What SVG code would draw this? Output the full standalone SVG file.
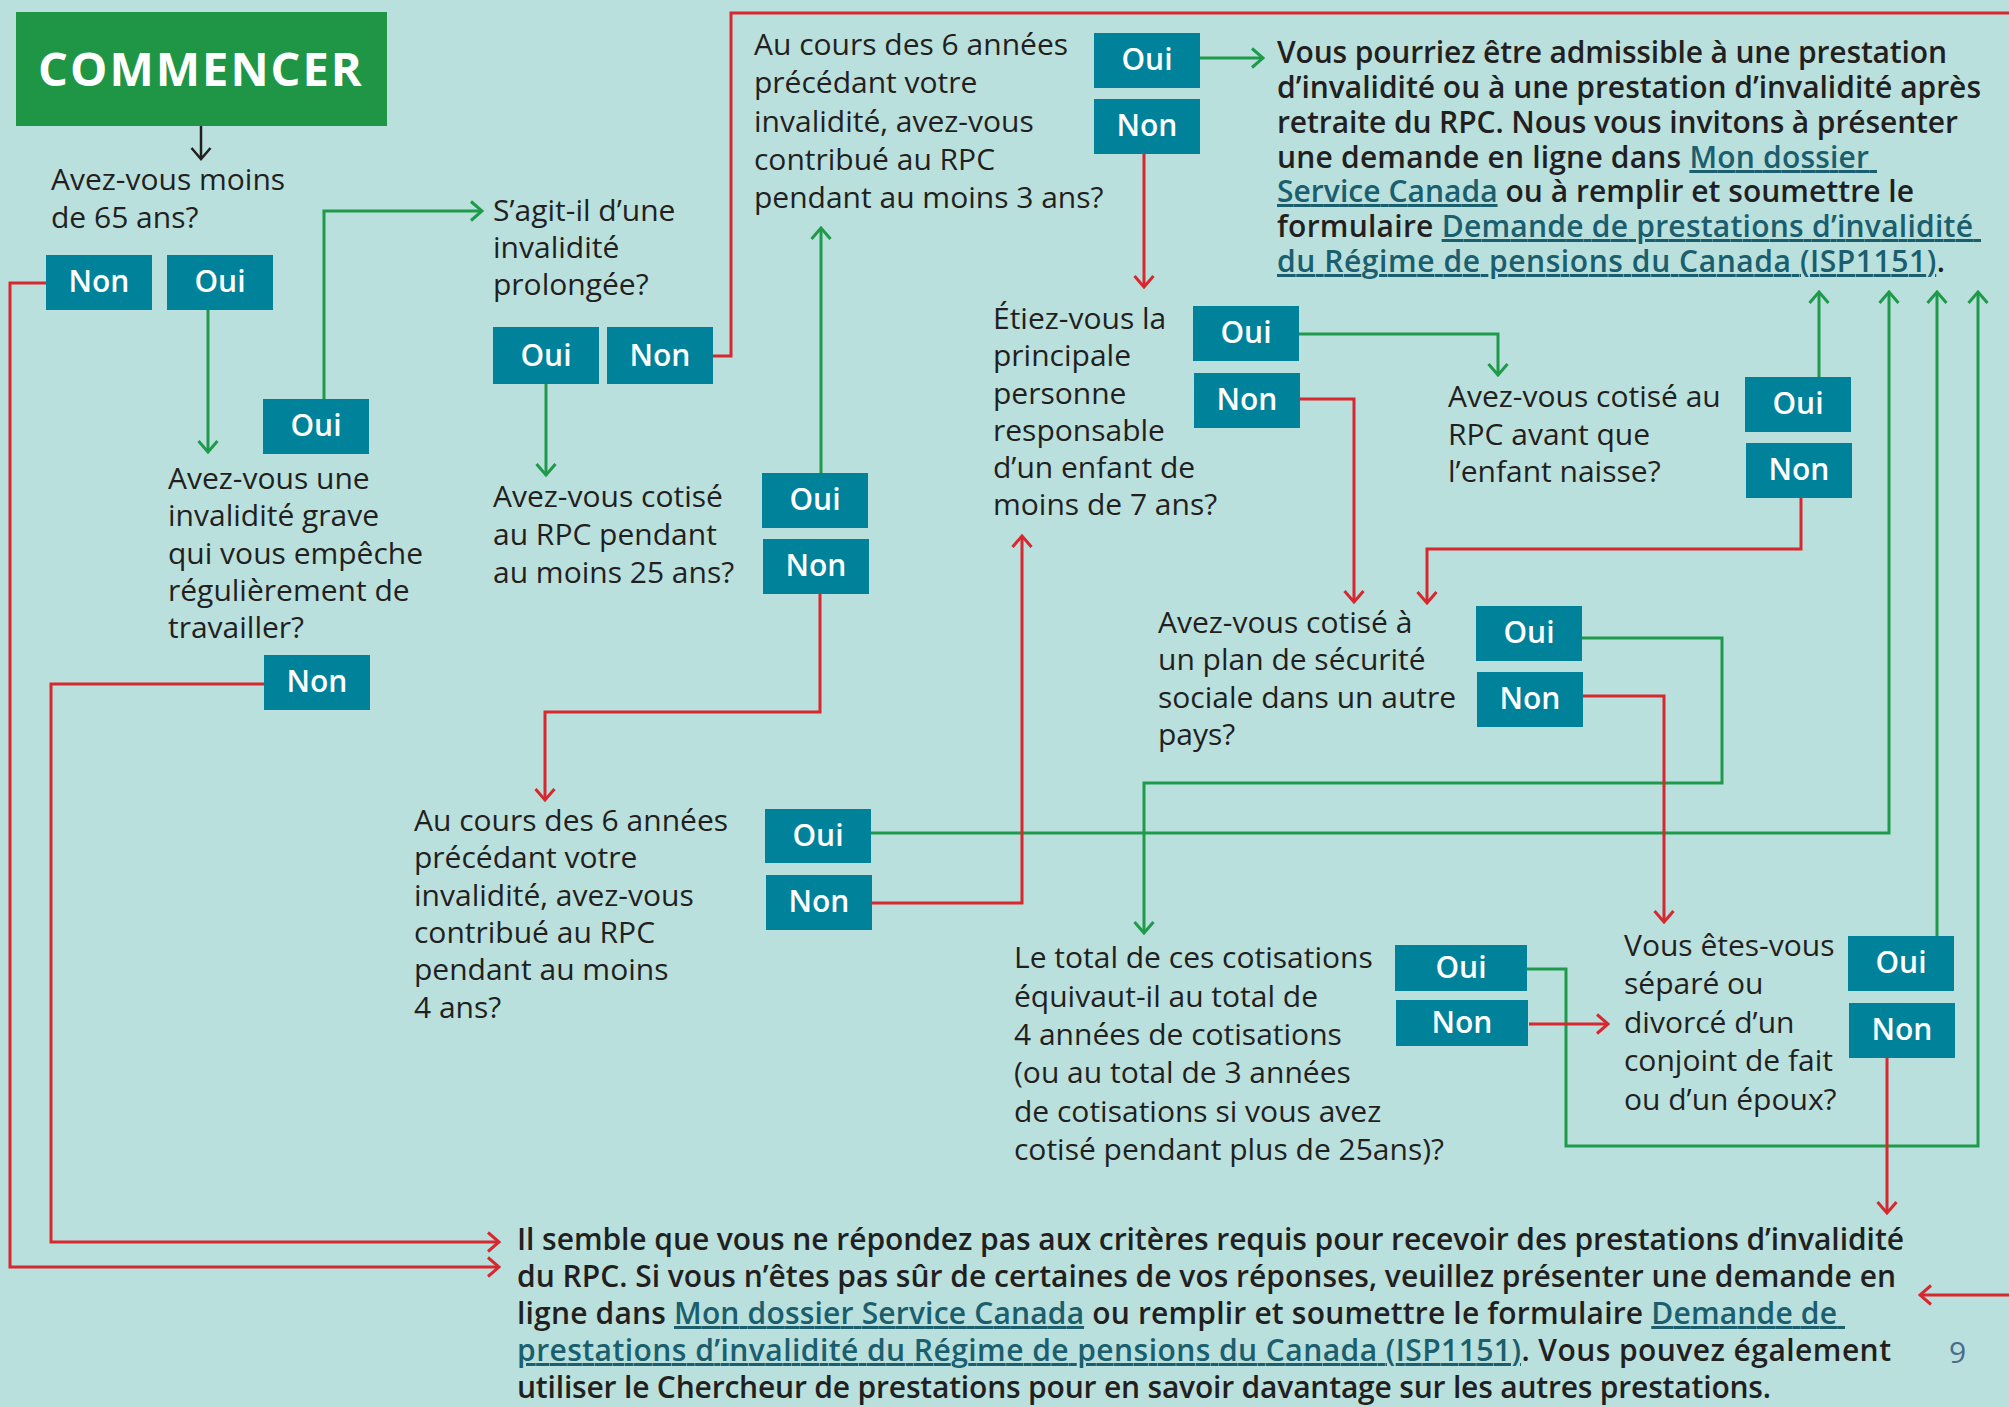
<svg xmlns="http://www.w3.org/2000/svg" width="2009" height="1407" viewBox="0 0 2009 1407">
<style>
.box{fill:#00829b}
.bl{font-family:"Open Sans","Noto Sans",sans-serif;font-size:30px;font-weight:600;fill:#ffffff;text-anchor:middle}
.q{font-family:"Open Sans","Noto Sans",sans-serif;font-size:30px;fill:#231f20}
.r{font-family:"Open Sans","Noto Sans",sans-serif;font-size:30px;font-weight:600;fill:#231f20}
.lk{fill:#1b5e6e;text-decoration:underline}
.g{fill:none;stroke:#1f9a4a;stroke-width:3;marker-end:url(#ag)}
.gn{fill:none;stroke:#1f9a4a;stroke-width:3}
.rd{fill:none;stroke:#d7282f;stroke-width:3;marker-end:url(#ar)}
.rn{fill:none;stroke:#d7282f;stroke-width:3}
</style>
<defs>
<marker id="ag" viewBox="-14 -12 16 24" refX="0" refY="0" markerWidth="16" markerHeight="24" markerUnits="userSpaceOnUse" orient="auto"><path d="M-11,-9.5 L0,0 L-11,9.5" fill="none" stroke="#1f9a4a" stroke-width="3"/></marker>
<marker id="ar" viewBox="-14 -12 16 24" refX="0" refY="0" markerWidth="16" markerHeight="24" markerUnits="userSpaceOnUse" orient="auto"><path d="M-11,-9.5 L0,0 L-11,9.5" fill="none" stroke="#d7282f" stroke-width="3"/></marker>
<marker id="ak" viewBox="-14 -12 16 24" refX="0" refY="0" markerWidth="16" markerHeight="24" markerUnits="userSpaceOnUse" orient="auto"><path d="M-11,-9.5 L0,0 L-11,9.5" fill="none" stroke="#231f20" stroke-width="2.5"/></marker>
</defs>
<rect x="0" y="0" width="2009" height="1407" fill="#b9e0dc"/>

<g id="connectors">
<path d="M201,126 V159" fill="none" stroke="#231f20" stroke-width="2.5" marker-end="url(#ak)"/>
<path class="g" d="M208,310 V452"/>
<path class="g" d="M324,399 V211 H482"/>
<path class="g" d="M546,384 V475"/>
<path class="g" d="M821,473 V228"/>
<path class="g" d="M1200,58 H1263"/>
<path class="g" d="M1299,334 H1498 V375"/>
<path class="g" d="M1819,377 V292"/>
<path class="g" d="M870,833 H1889 V292"/>
<path class="g" d="M1581,638 H1722 V783 H1144 V933"/>
<path class="g" d="M1527,969 H1566 V1146 H1978 V292"/>
<path class="g" d="M1937,936 V292"/>
<path class="rd" d="M46,283 H10 V1267 H499"/>
<path class="rd" d="M264,684 H51 V1242 H499"/>
<path class="rn" d="M713,356 H731 V13 H2009"/>
<path class="rd" d="M1144,154 V287"/>
<path class="rd" d="M1300,399 H1354 V602"/>
<path class="rd" d="M1801,498 V549 H1427 V603"/>
<path class="rd" d="M820,594 V712 H545 V800"/>
<path class="rd" d="M871,903 H1022 V536"/>
<path class="rd" d="M1583,696 H1664 V922"/>
<path class="rd" d="M1529,1024 H1608"/>
<path class="rd" d="M1887,1058 V1213"/>
<path class="rd" d="M2009,1295 H1920"/>
</g>

<g id="start">
<rect x="16" y="12" width="371" height="114" fill="#1e9646"/>
<text x="201" y="86" font-family="'Open Sans','Noto Sans',sans-serif" font-size="47" font-weight="700" fill="#ffffff" text-anchor="middle" letter-spacing="2">COMMENCER</text>
</g>

<g id="q-age">
<text class="q" x="51" y="190">Avez-vous moins</text>
<text class="q" x="51" y="228">de 65 ans?</text>
<rect class="box" x="46" y="255" width="106" height="55"/><text class="bl" x="99" y="292">Non</text>
<rect class="box" x="167" y="255" width="106" height="55"/><text class="bl" x="220" y="292">Oui</text>
</g>

<g id="q-grave">
<rect class="box" x="263" y="399" width="106" height="55"/><text class="bl" x="316" y="436">Oui</text>
<text class="q" x="168" y="489">Avez-vous une</text>
<text class="q" x="168" y="526">invalidité grave</text>
<text class="q" x="168" y="564">qui vous empêche</text>
<text class="q" x="168" y="601">régulièrement de</text>
<text class="q" x="168" y="638">travailler?</text>
<rect class="box" x="264" y="655" width="106" height="55"/><text class="bl" x="317" y="692">Non</text>
</g>

<g id="q-prolongee">
<text class="q" x="493" y="221">S’agit-il d’une</text>
<text class="q" x="493" y="258">invalidité</text>
<text class="q" x="493" y="295">prolongée?</text>
<rect class="box" x="493" y="327" width="106" height="57"/><text class="bl" x="546" y="366">Oui</text>
<rect class="box" x="607" y="327" width="106" height="57"/><text class="bl" x="660" y="366">Non</text>
</g>

<g id="q-3ans">
<text class="q" x="754" y="55">Au cours des 6 années</text>
<text class="q" x="754" y="93">précédant votre</text>
<text class="q" x="754" y="132">invalidité, avez-vous</text>
<text class="q" x="754" y="170">contribué au RPC</text>
<text class="q" x="754" y="208">pendant au moins 3 ans?</text>
<rect class="box" x="1094" y="33" width="106" height="55"/><text class="bl" x="1147" y="70">Oui</text>
<rect class="box" x="1094" y="99" width="106" height="55"/><text class="bl" x="1147" y="136">Non</text>
</g>

<g id="result-admissible">
<text class="r" x="1277" y="63" textLength="670">Vous pourriez être admissible à une prestation</text>
<text class="r" x="1277" y="98" textLength="704">d’invalidité ou à une prestation d’invalidité après</text>
<text class="r" x="1277" y="133" textLength="681">retraite du RPC. Nous vous invitons à présenter</text>
<text class="r" x="1277" y="168" textLength="600" xml:space="preserve">une demande en ligne dans <tspan class="lk">Mon dossier </tspan></text>
<text class="r" x="1277" y="202" textLength="637" xml:space="preserve"><tspan class="lk">Service Canada</tspan> ou à remplir et soumettre le</text>
<text class="r" x="1277" y="237" textLength="704" xml:space="preserve">formulaire <tspan class="lk">Demande de prestations d’invalidité </tspan></text>
<text class="r" x="1277" y="272" textLength="668" xml:space="preserve"><tspan class="lk">du Régime de pensions du Canada (ISP1151)</tspan>.</text>
</g>

<g id="q-25ans">
<text class="q" x="493" y="507">Avez-vous cotisé</text>
<text class="q" x="493" y="545">au RPC pendant</text>
<text class="q" x="493" y="583">au moins 25 ans?</text>
<rect class="box" x="762" y="473" width="106" height="55"/><text class="bl" x="815" y="510">Oui</text>
<rect class="box" x="763" y="539" width="106" height="55"/><text class="bl" x="816" y="576">Non</text>
</g>

<g id="q-4ans">
<text class="q" x="414" y="831">Au cours des 6 années</text>
<text class="q" x="414" y="868">précédant votre</text>
<text class="q" x="414" y="906">invalidité, avez-vous</text>
<text class="q" x="414" y="943">contribué au RPC</text>
<text class="q" x="414" y="980">pendant au moins</text>
<text class="q" x="414" y="1018">4 ans?</text>
<rect class="box" x="765" y="809" width="106" height="54"/><text class="bl" x="818" y="846">Oui</text>
<rect class="box" x="766" y="875" width="106" height="55"/><text class="bl" x="819" y="912">Non</text>
</g>

<g id="q-enfant">
<text class="q" x="993" y="329">Étiez-vous la</text>
<text class="q" x="993" y="366">principale</text>
<text class="q" x="993" y="404">personne</text>
<text class="q" x="993" y="441">responsable</text>
<text class="q" x="993" y="478">d’un enfant de</text>
<text class="q" x="993" y="515">moins de 7 ans?</text>
<rect class="box" x="1193" y="306" width="106" height="55"/><text class="bl" x="1246" y="343">Oui</text>
<rect class="box" x="1194" y="373" width="106" height="55"/><text class="bl" x="1247" y="410">Non</text>
</g>

<g id="q-naisse">
<text class="q" x="1448" y="407">Avez-vous cotisé au</text>
<text class="q" x="1448" y="445">RPC avant que</text>
<text class="q" x="1448" y="482">l’enfant naisse?</text>
<rect class="box" x="1745" y="377" width="106" height="55"/><text class="bl" x="1798" y="414">Oui</text>
<rect class="box" x="1746" y="443" width="106" height="55"/><text class="bl" x="1799" y="480">Non</text>
</g>

<g id="q-pays">
<text class="q" x="1158" y="633">Avez-vous cotisé à</text>
<text class="q" x="1158" y="670">un plan de sécurité</text>
<text class="q" x="1158" y="708">sociale dans un autre</text>
<text class="q" x="1158" y="745">pays?</text>
<rect class="box" x="1476" y="606" width="106" height="55"/><text class="bl" x="1529" y="643">Oui</text>
<rect class="box" x="1477" y="672" width="106" height="55"/><text class="bl" x="1530" y="709">Non</text>
</g>

<g id="q-total">
<text class="q" x="1014" y="968">Le total de ces cotisations</text>
<text class="q" x="1014" y="1007">équivaut-il au total de</text>
<text class="q" x="1014" y="1045">4 années de cotisations</text>
<text class="q" x="1014" y="1083">(ou au total de 3 années</text>
<text class="q" x="1014" y="1122">de cotisations si vous avez</text>
<text class="q" x="1014" y="1160">cotisé pendant plus de 25ans)?</text>
<rect class="box" x="1395" y="945" width="132" height="46"/><text class="bl" x="1461" y="978">Oui</text>
<rect class="box" x="1396" y="1000" width="132" height="46"/><text class="bl" x="1462" y="1033">Non</text>
</g>

<g id="q-separe">
<text class="q" x="1624" y="956">Vous êtes-vous</text>
<text class="q" x="1624" y="994">séparé ou</text>
<text class="q" x="1624" y="1033">divorcé d’un</text>
<text class="q" x="1624" y="1071">conjoint de fait</text>
<text class="q" x="1624" y="1110">ou d’un époux?</text>
<rect class="box" x="1848" y="936" width="106" height="55"/><text class="bl" x="1901" y="973">Oui</text>
<rect class="box" x="1849" y="1003" width="106" height="55"/><text class="bl" x="1902" y="1040">Non</text>
</g>

<g id="result-non-admissible">
<text class="r" x="517" y="1250" textLength="1387">Il semble que vous ne répondez pas aux critères requis pour recevoir des prestations d’invalidité</text>
<text class="r" x="517" y="1287" textLength="1379">du RPC. Si vous n’êtes pas sûr de certaines de vos réponses, veuillez présenter une demande en</text>
<text class="r" x="517" y="1324" textLength="1328" xml:space="preserve">ligne dans <tspan class="lk">Mon dossier Service Canada</tspan> ou remplir et soumettre le formulaire <tspan class="lk">Demande de </tspan></text>
<text class="r" x="517" y="1361" textLength="1374" xml:space="preserve"><tspan class="lk">prestations d’invalidité du Régime de pensions du Canada (ISP1151)</tspan>. Vous pouvez également</text>
<text class="r" x="517" y="1398" textLength="1254">utiliser le Chercheur de prestations pour en savoir davantage sur les autres prestations.</text>
</g>

<g id="page-number">
<text x="1949" y="1363" font-family="'Open Sans','Noto Sans',sans-serif" font-size="30" fill="#4a6b8c">9</text>
</g>
</svg>
